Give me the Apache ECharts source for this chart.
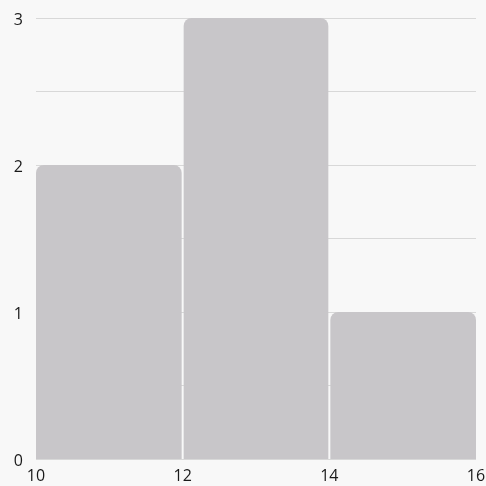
<!DOCTYPE html>
<html>
<head>
<meta charset="utf-8">
<script src="https://cdn.jsdelivr.net/npm/echarts@6/dist/echarts.min.js"></script>
<style>
  html, body { margin: 0; padding: 0; background: #f8f8f8; }
  #main { width: 486px; height: 486px; }
</style>
</head>
<body>
<div id="main"></div>
<script>
// histogram bins
var binStart = [10, 12, 14];
var binEnd = [12, 14, 16];
var counts = [2, 3, 1];

var myChart = echarts.init(document.getElementById('main'));

var data = [];
for (var i = 0; i < counts.length; i++) {
    data.push([binStart[i], binEnd[i], counts[i]]);
}

var labelFont = 'Open Sans';

var option = {
    backgroundColor: '#f8f8f8',
    animation: false,
    grid: { left: 36, right: 10, top: 18, bottom: 27, outerBoundsMode: 'none' },
    xAxis: {
        type: 'value',
        min: 10,
        max: 16,
        interval: 2,
        axisLine: { show: false },
        axisTick: { show: false },
        splitLine: { show: false },
        axisLabel: { color: '#1a1a1a', fontSize: 16, fontFamily: labelFont, margin: 9 }
    },
    yAxis: {
        type: 'value',
        min: 0,
        max: 3,
        interval: 0.5,
        axisLine: { show: false },
        axisTick: { show: false },
        splitLine: { lineStyle: { color: '#d8d8d8', width: 1 } },
        axisLabel: {
            color: '#1a1a1a', fontSize: 16, fontFamily: labelFont, margin: 13,
            formatter: function (v) { return v % 1 === 0 ? '{n|' + v + '}' : ''; },
            rich: {
                n: { color: '#1a1a1a', fontSize: 16, fontFamily: labelFont, padding: [5, 0, 0, 0] }
            }
        }
    },
    series: [{
        type: 'custom',
        data: data,
        encode: { x: [0, 1], y: 2 },
        renderItem: function (params, api) {
            var p0 = api.coord([api.value(0), api.value(2)]);
            var p1 = api.coord([api.value(1), 0]);
            var x0 = p0[0] + (api.value(0) > 10 ? 1 : 0);
            var x1 = p1[0] - (api.value(1) < 16 ? 1 : 0);
            return {
                type: 'rect',
                shape: { x: x0, y: p0[1], width: x1 - x0, height: p1[1] - p0[1], r: [8, 8, 0, 0] },
                style: { fill: '#c8c6c9' }
            };
        }
    }]
};

myChart.setOption(option);
</script>
</body>
</html>
